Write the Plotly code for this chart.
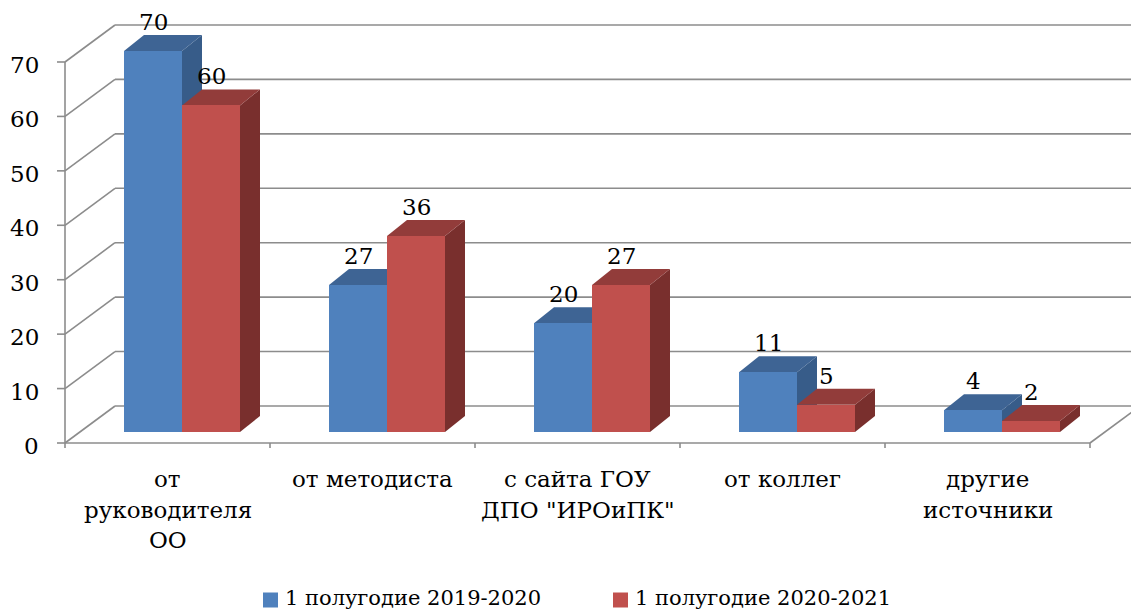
import plotly.graph_objects as go

# ---------------- data ----------------
categories = ["от\nруководителя\nОО", "от методиста", "с сайта ГОУ\nДПО \"ИРОиПК\"",
              "от коллег", "другие\nисточники"]
series_names = ["1 полугодие 2019-2020", "1 полугодие 2020-2021"]
values_2019_2020 = [70, 27, 20, 11, 4]
values_2020_2021 = [60, 36, 27, 5, 2]
y_ticks = [0, 10, 20, 30, 40, 50, 60, 70]

# ---------------- styling / geometry ----------------
W, H = 1131, 613
SX = 205.0      # px per category
SY = 5.443      # px per value unit
X0_PX = 182.0   # pixel x of category 0 centre (bar plane)
Y0_PX = 432.0   # pixel y of value 0 (bar plane)

def ux(px):
    return px / SX

def uy(px):
    return px / SY

FRONT = (ux(-14.5), uy(-11))
BACK = (ux(35.5), uy(26))
DEPTH = (ux(20), uy(16))
BAR_W = ux(58)

X_RANGE = [(0 - X0_PX) / SX, (W - X0_PX) / SX]
Y_RANGE = [(Y0_PX - H) / SY, (Y0_PX - 0) / SY]

FONT = "DejaVu Serif"
FS = 23
FS_LEG = 21
GRID = "#8C8C8C"
GW = 1.6
COLORS = {
    0: dict(front="#4F81BD", top="#3E6494", side="#375C89"),
    1: dict(front="#C0504D", top="#923C3A", side="#792F2D"),
}

def P(x, v, off):
    return x + off[0], v + off[1]

shapes = []
annotations = []

def line(p1, p2, color=GRID, width=GW):
    shapes.append(dict(type="line", xref="x", yref="y", x0=p1[0], y0=p1[1],
                       x1=p2[0], y1=p2[1], line=dict(color=color, width=width),
                       layer="below"))

n = len(categories)
top_val = y_ticks[-1]

# walls / grid
for t in y_ticks:
    f = P(-0.5, t, FRONT)
    b = P(-0.5, t, BACK)
    line(f, b)
    line(b, (X_RANGE[1] + 0.1, b[1]))
    line((f[0] - ux(8), f[1]), f)
    annotations.append(dict(x=f[0] - ux(24), y=f[1], xref="x", yref="y", text=str(t),
                            showarrow=False, xanchor="right", yanchor="middle", yshift=-3,
                            font=dict(family=FONT, size=FS, color="#000000")))
line(P(-0.5, 0, FRONT), P(-0.5, top_val, FRONT))
line(P(-0.5, 0, FRONT), P(n - 0.5, 0, FRONT))
line(P(n - 0.5, 0, FRONT), P(n - 0.5, 0, BACK))
for k in range(n + 1):
    p = P(k - 0.5, 0, FRONT)
    line(p, (p[0], p[1] - uy(5)))

# 3D faces (top + side) for each bar, drawn under the front faces
def path(pts):
    return "M " + " L ".join(f"{x},{y}" for x, y in pts) + " Z"

series = [values_2019_2020, values_2020_2021]
for i in range(n):
    for s, vals in enumerate(series):
        v = vals[i]
        xl = i - BAR_W if s == 0 else i
        xr = xl + BAR_W
        side = [(xr, 0), (xr, v), (xr + DEPTH[0], v + DEPTH[1]), (xr + DEPTH[0], DEPTH[1])]
        top = [(xl, v), (xr, v), (xr + DEPTH[0], v + DEPTH[1]), (xl + DEPTH[0], v + DEPTH[1])]
        shapes.append(dict(type="path", xref="x", yref="y", path=path(side),
                           fillcolor=COLORS[s]["side"], line=dict(width=0), layer="below"))
        shapes.append(dict(type="path", xref="x", yref="y", path=path(top),
                           fillcolor=COLORS[s]["top"], line=dict(width=0), layer="below"))
        annotations.append(dict(x=(xl + xr) / 2, y=v + DEPTH[1], xref="x", yref="y",
                                text=str(v), showarrow=False, xanchor="center",
                                yanchor="bottom", yshift=-2,
                                font=dict(family=FONT, size=FS, color="#000000")))

# category labels (one annotation per line)
LINE_GAP = 30.5
for i, cat in enumerate(categories):
    cx, cy = P(i, 0, FRONT)
    for j, txt in enumerate(cat.split("\n")):
        annotations.append(dict(x=cx, y=cy - uy(36 + LINE_GAP * j), xref="x", yref="y",
                                text=txt, showarrow=False, xanchor="center", yanchor="middle",
                                font=dict(family=FONT, size=FS, color="#000000")))

fig = go.Figure()
for s, vals in enumerate(series):
    fig.add_trace(go.Bar(
        x=list(range(n)), y=vals, width=BAR_W, offset=-BAR_W if s == 0 else 0,
        marker=dict(color=COLORS[s]["front"], line=dict(width=0)),
        name=series_names[s], showlegend=False, hoverinfo="skip"))

# legend (manual)
leg_items = [(263, 284), (613, 634)]
for s, (sq_x, tx) in enumerate(leg_items):
    yc = 598
    shapes.append(dict(type="rect", xref="paper", yref="paper",
                       x0=sq_x / W, x1=(sq_x + 15) / W,
                       y0=1 - (yc + 9.5) / H, y1=1 - (yc - 5.5) / H,
                       fillcolor=COLORS[s]["front"], line=dict(width=0)))
    annotations.append(dict(x=tx / W, y=1 - yc / H, xref="paper", yref="paper",
                            text=series_names[s], showarrow=False, xanchor="left",
                            yanchor="middle", borderpad=0,
                            font=dict(family=FONT, size=FS_LEG, color="#000000")))

fig.update_layout(
    width=W, height=H, margin=dict(l=0, r=0, t=0, b=0),
    paper_bgcolor="white", plot_bgcolor="white",
    barmode="overlay", bargap=0,
    xaxis=dict(range=X_RANGE, visible=False, fixedrange=True),
    yaxis=dict(range=Y_RANGE, visible=False, fixedrange=True),
    shapes=shapes, annotations=annotations, showlegend=False,
)

fig.write_html("out.html", config={"displayModeBar": False},
               post_script="document.body.style.margin='0';")
